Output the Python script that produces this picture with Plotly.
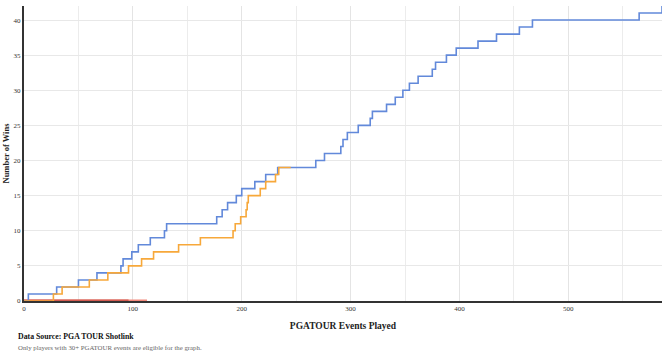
import plotly.graph_objects as go

# Events at which each win occurred
blue_win_events = [4, 30, 50, 67, 89, 91, 99, 105, 116, 129, 131, 177, 182, 187, 195,
                   200, 212, 222, 233, 268, 276, 291, 293, 297, 307, 318, 320, 333, 341,
                   348, 354, 362, 375, 378, 388, 397, 417, 434, 455, 467, 565, 586]
blue_total_events = 586

orange_win_events = [27, 35, 60, 77, 96, 108, 119, 142, 162, 192, 194, 199, 204, 205,
                     206, 217, 222, 231, 234]
orange_total_events = 245

red_total_events = 96
salmon_total_events = 113

x_tick_values = [0, 100, 200, 300, 400, 500]
y_tick_values = [0, 5, 10, 15, 20, 25, 30, 35, 40]


def step_series(win_events, total):
    xs = [0]
    ys = [0]
    for i, e in enumerate(win_events, start=1):
        xs.append(e)
        ys.append(i)
    if xs[-1] != total:
        xs.append(total)
        ys.append(len(win_events))
    return xs, ys


fig = go.Figure()

for total, color in [(salmon_total_events, "#f2897c"), (red_total_events, "#d25a50")]:
    xs, ys = step_series([], total)
    fig.add_trace(go.Scatter(x=xs, y=ys, mode="lines", line=dict(color=color, width=3),
                             line_shape="hv", cliponaxis=False, hoverinfo="skip"))

bx, by = step_series(blue_win_events, blue_total_events)
fig.add_trace(go.Scatter(x=bx, y=by, mode="lines", line=dict(color="#6289da", width=1.6),
                         line_shape="hv", cliponaxis=False))

ox, oy = step_series(orange_win_events, orange_total_events)
fig.add_trace(go.Scatter(x=ox, y=oy, mode="lines", line=dict(color="#f7a83a", width=1.6),
                         line_shape="hv", cliponaxis=False))

serif = "Liberation Serif"

fig.update_layout(
    width=670, height=356,
    margin=dict(l=24, r=8, t=6, b=55),
    paper_bgcolor="white", plot_bgcolor="white",
    showlegend=False,
    font=dict(family=serif, size=8, color="#444"),
    xaxis=dict(
        range=[0, 586], tickvals=x_tick_values, ticktext=[str(v) for v in x_tick_values],
        showgrid=True, gridcolor="#e4e4e4", gridwidth=1,
        minor=dict(dtick=50, tick0=0, showgrid=True, gridcolor="#ececec", gridwidth=1),
        showline=True, linecolor="#333", linewidth=2, layer="below traces",
        zeroline=False, ticks="", ticklen=0, automargin=False,
        tickfont=dict(family=serif, size=7, color="#333"),
        title=dict(text="<b>PGATOUR Events Played</b>", font=dict(family=serif, size=9.5, color="#222"),
                   standoff=10),
    ),
    yaxis=dict(
        range=[0, 42], tickvals=y_tick_values, ticktext=[str(v) for v in y_tick_values],
        showgrid=True, gridcolor="#e8e8e8", gridwidth=1,
        showline=True, linecolor="#333", linewidth=2, layer="below traces",
        zeroline=False, ticks="", automargin=False,
        tickfont=dict(family=serif, size=7, color="#333"),
        title=dict(text="<b>Number of Wins</b>", font=dict(family=serif, size=8.5, color="#222"),
                   standoff=3),
    ),
    annotations=[
        dict(text="<b>Data Source: PGA TOUR Shotlink</b>", xref="paper", yref="paper",
             x=-0.013, y=-0.122, xanchor="left", yanchor="middle", showarrow=False,
             font=dict(family=serif, size=7.8, color="#111")),
        dict(text="Only players with 30+ PGATOUR events are eligible for the graph.",
             xref="paper", yref="paper", x=-0.013, y=-0.156, xanchor="left", yanchor="middle",
             showarrow=False, font=dict(family=serif, size=6.8, color="#666")),
    ],
)

fig.write_html("out.html", config={"displayModeBar": False},
               post_script="document.body.style.margin='0';")
